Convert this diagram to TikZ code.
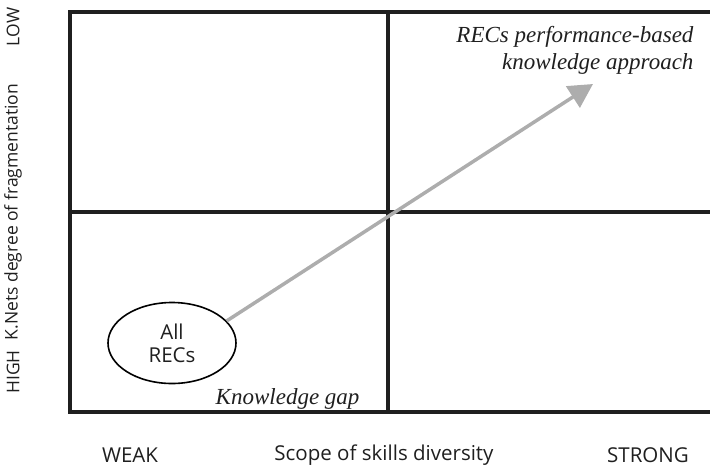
\documentclass[tikz,border=0pt]{standalone}
\usepackage{fontspec}
\setmainfont{Liberation Serif}
\setsansfont{Open Sans}
\usetikzlibrary{shapes.geometric,arrows.meta}

\begin{document}
\begin{tikzpicture}[x=1pt,y=-1pt,
    quad/.style={line width=3.2pt,draw=black!88},
    lbl/.style={font=\sffamily\fontsize{20.5}{23}\selectfont,text=black!88},
    vlbl/.style={font=\sffamily\fontsize{17.5}{20}\selectfont,text=black!88,rotate=90},
    note/.style={font=\itshape\fontsize{23}{27}\selectfont,text=black!88}]
    \useasboundingbox (0,0) rectangle (710,469);
    % quadrants
    \draw[quad] (712,12) -- (70,12) -- (70,412) -- (712,412);
    \draw[quad] (388,12) -- (388,412);
    \draw[quad] (70,212) -- (712,212);
    % axes
    \node[lbl] (weak) at (130,455) {WEAK};
    \node[lbl] (scope) at (384,455) {Scope of skills diversity};
    \node[lbl] (strong) at (648,455) {STRONG};
    \node[vlbl] (high) at (13,372) {HIGH};
    \node[vlbl] (frag) at (13,212) {K.Nets degree of fragmentation};
    \node[vlbl] (low) at (13,27) {LOW};
    % contents
    \node[lbl,ellipse,draw=black,line width=1.6pt,minimum width=128,minimum height=81,align=center,inner sep=0pt] (recs) at (172,343) {All\\RECs};
    \node[note,anchor=base east] (gap) at (363,404) {Knowledge gap};
    \node[note,align=right,anchor=north east] (perf) at (697,23) {RECs performance-based\\knowledge approach};
    \coordinate (tip) at (593,84);
    \draw[line width=3.5pt,black!32,-{Triangle[length=24pt,width=25pt]}] (recs.22) -- (tip);
\end{tikzpicture}
\end{document}
